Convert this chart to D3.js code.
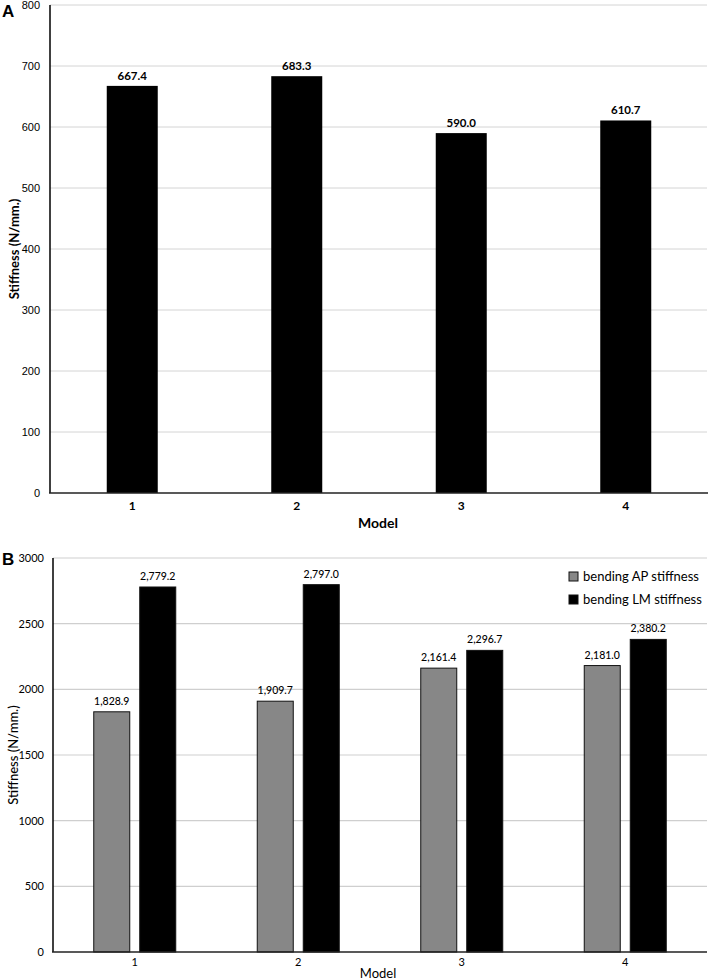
<!DOCTYPE html>
<html>
<head>
<meta charset="utf-8">
<script src="https://cdn.jsdelivr.net/npm/d3@7"></script>
<style>
  body { margin: 0; background: #fff; }
  svg { display: block; }
</style>
</head>
<body>
<div id="chart"></div>
<script>
const width = 708;
const height = 980;

// Panel A data
const modelsA = ["1", "2", "3", "4"];
const stiffnessA = [667.4, 683.3, 590.0, 610.7];
const ticksA = [0, 100, 200, 300, 400, 500, 600, 700, 800];

// Panel B data
const modelsB = ["1", "2", "3", "4"];
const seriesB = ["bending AP stiffness", "bending LM stiffness"];
const apStiffness = [1828.9, 1909.7, 2161.4, 2181.0];
const lmStiffness = [2779.2, 2797.0, 2296.7, 2380.2];
const ticksB = [0, 500, 1000, 1500, 2000, 2500, 3000];

const calib = "Lato, 'Open Sans', sans-serif";
const arial = "'Liberation Sans', Arial, sans-serif";

const svg = d3.select('#chart')
  .append('svg')
  .attr('width', width)
  .attr('height', height);

// ---------- Panel A ----------
const xA = d3.scaleBand().domain(modelsA).range([50, 708]);
const yA = d3.scaleLinear().domain([0, 800]).range([493, 5]);

const gA = svg.append('g');

// gridlines
gA.selectAll('.gridA')
  .data(ticksA.filter(t => t > 0))
  .join('line')
  .attr('x1', 50).attr('x2', 707)
  .attr('y1', d => yA(d)).attr('y2', d => yA(d))
  .attr('stroke', '#d4d4d4').attr('stroke-width', 1);

// bars
const barWA = 51;
gA.selectAll('.barA')
  .data(stiffnessA)
  .join('rect')
  .attr('x', (d, i) => xA(modelsA[i]) + xA.bandwidth() / 2 - barWA / 2)
  .attr('y', d => yA(d))
  .attr('width', barWA)
  .attr('height', d => yA(0) - yA(d))
  .attr('fill', '#000');

// value labels
gA.selectAll('.valA')
  .data(stiffnessA)
  .join('text')
  .attr('x', (d, i) => xA(modelsA[i]) + xA.bandwidth() / 2)
  .attr('y', d => yA(d) - 6)
  .attr('text-anchor', 'middle')
  .style('font-family', calib).style('font-size', '11.5px').style('font-weight', 'bold')
  .text(d => d3.format('.1f')(d));

// axes lines
gA.append('line').attr('x1', 50).attr('x2', 50).attr('y1', yA(800)).attr('y2', yA(0))
  .attr('stroke', '#000').attr('stroke-width', 1.5);
gA.append('line').attr('x1', 49).attr('x2', 708).attr('y1', yA(0)).attr('y2', yA(0))
  .attr('stroke', '#222').attr('stroke-width', 1.5);

// y tick labels
gA.selectAll('.tickA')
  .data(ticksA)
  .join('text')
  .attr('x', 40)
  .attr('y', d => yA(d) + 4)
  .attr('text-anchor', 'end')
  .style('font-family', arial).style('font-size', '11px')
  .text(d => d);

// x tick labels
gA.selectAll('.xtickA')
  .data(modelsA)
  .join('text')
  .attr('x', d => xA(d) + xA.bandwidth() / 2)
  .attr('y', 510)
  .attr('text-anchor', 'middle')
  .style('font-family', calib).style('font-size', '12px').style('font-weight', 'bold')
  .text(d => d);

gA.append('text')
  .attr('x', 378).attr('y', 528)
  .attr('text-anchor', 'middle')
  .style('font-family', calib).style('font-size', '14px').style('font-weight', 'bold')
  .text('Model');

gA.append('text')
  .attr('transform', `translate(19, ${yA(400)}) rotate(-90)`)
  .attr('text-anchor', 'middle')
  .style('font-family', calib).style('font-size', '13px').style('font-weight', 'bold')
  .text('Stiffness (N/mm.)');

svg.append('text')
  .attr('x', 2).attr('y', 17)
  .style('font-family', arial).style('font-size', '17px').style('font-weight', 'bold')
  .text('A');

// ---------- Panel B ----------
const xB = d3.scaleBand().domain(modelsB).range([53, 707]);
const yB = d3.scaleLinear().domain([0, 3000]).range([952, 558]);

const gB = svg.append('g');

gB.selectAll('.gridB')
  .data(ticksB.filter(t => t > 0))
  .join('line')
  .attr('x1', 53).attr('x2', 707)
  .attr('y1', d => yB(d)).attr('y2', d => yB(d))
  .attr('stroke', '#cfcfcf').attr('stroke-width', 1.2);

const barWB = 36;
const gapB = 10;
const groupData = [];
modelsB.forEach((m, i) => {
  groupData.push({ model: m, s: 0, v: apStiffness[i] });
  groupData.push({ model: m, s: 1, v: lmStiffness[i] });
});

const xOff = d => xB(d.model) + xB.bandwidth() / 2 + (d.s === 0 ? -gapB / 2 - barWB : gapB / 2);

gB.selectAll('.barB')
  .data(groupData)
  .join('rect')
  .attr('x', d => xOff(d))
  .attr('y', d => yB(d.v))
  .attr('width', barWB)
  .attr('height', d => yB(0) - yB(d.v))
  .attr('fill', d => d.s === 0 ? '#878787' : '#000')
  .attr('stroke', '#111')
  .attr('stroke-width', 1);

gB.selectAll('.valB')
  .data(groupData)
  .join('text')
  .attr('x', d => xOff(d) + barWB / 2)
  .attr('y', d => yB(d.v) - 7)
  .attr('text-anchor', 'middle')
  .style('font-family', calib).style('font-size', '10.5px').style('font-weight', '500')
  .text(d => d3.format(',.1f')(d.v));

gB.append('line').attr('x1', 53).attr('x2', 53).attr('y1', yB(3000)).attr('y2', yB(0))
  .attr('stroke', '#000').attr('stroke-width', 1.5);
gB.append('line').attr('x1', 52).attr('x2', 707).attr('y1', yB(0)).attr('y2', yB(0))
  .attr('stroke', '#222').attr('stroke-width', 1.5);

gB.selectAll('.tickB')
  .data(ticksB)
  .join('text')
  .attr('x', 44)
  .attr('y', d => yB(d) + 4)
  .attr('text-anchor', 'end')
  .style('font-family', calib).style('font-size', '11px')
  .text(d => d);

gB.selectAll('.xtickB')
  .data(modelsB)
  .join('text')
  .attr('x', d => xB(d) + xB.bandwidth() / 2)
  .attr('y', 966)
  .attr('text-anchor', 'middle')
  .style('font-family', calib).style('font-size', '11px')
  .text(d => d);

gB.append('text')
  .attr('x', 378).attr('y', 978)
  .attr('text-anchor', 'middle')
  .style('font-family', calib).style('font-size', '13px')
  .text('Model');

gB.append('text')
  .attr('transform', `translate(18, ${yB(1500)}) rotate(-90)`)
  .attr('text-anchor', 'middle')
  .style('font-family', calib).style('font-size', '13px').style('font-weight', '500')
  .text('Stiffness (N/mm.)');

svg.append('text')
  .attr('x', 2).attr('y', 565)
  .style('font-family', arial).style('font-size', '17px').style('font-weight', 'bold')
  .text('B');

// legend
const legend = gB.selectAll('.legB')
  .data(seriesB)
  .join('g')
  .attr('transform', (d, i) => `translate(569, ${572 + i * 23})`);
legend.append('rect')
  .attr('width', 9).attr('height', 9)
  .attr('fill', (d, i) => i === 0 ? '#878787' : '#000')
  .attr('stroke', '#111');
legend.append('text')
  .attr('x', 14).attr('y', 9)
  .style('font-family', calib).style('font-size', '13px')
  .text(d => d);
</script>
</body>
</html>
